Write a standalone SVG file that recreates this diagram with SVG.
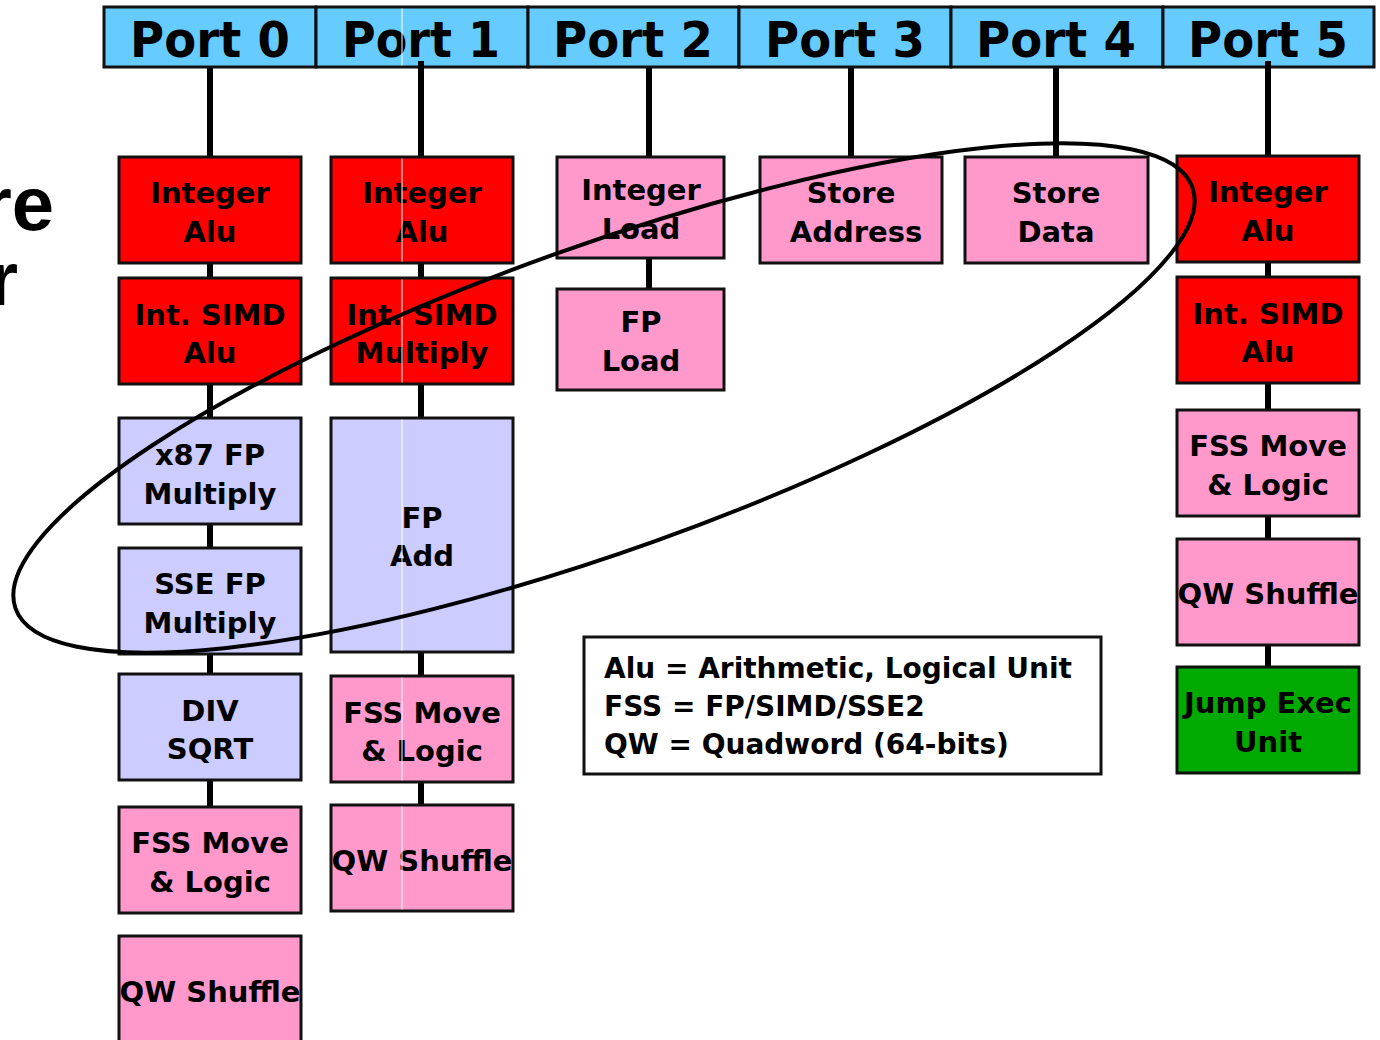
<svg xmlns="http://www.w3.org/2000/svg" width="1380" height="1040" viewBox="0 0 1380 1040">
<style>
.port{fill:#66CCFF;stroke:#111;stroke-width:3}
.pt{font-family:"DejaVu Sans",sans-serif;font-weight:bold;font-size:49px;fill:#000;text-anchor:middle}
.box{stroke:#111;stroke-width:3}
.red{fill:#FF0000}
.pink{fill:#FF99CC}
.lav{fill:#CCCCFF}
.grn{fill:#00AA00}
.lb{font-family:"DejaVu Sans",sans-serif;font-weight:bold;font-size:29px;fill:#000;text-anchor:middle}
.lg{font-family:"DejaVu Sans",sans-serif;font-weight:bold;font-size:28px;fill:#000}
.conn{stroke:#000;stroke-width:6;fill:none}
.title{font-family:"Liberation Sans",Arial,sans-serif;font-weight:bold;font-size:76px;fill:#000;text-anchor:end}
</style>
<rect width="1380" height="1040" fill="#fff"/>
<text class="title" x="54" y="230">re</text>
<text class="title" x="18" y="305">r</text>
<g id="connectors">
<line class="conn" x1="210" y1="66" x2="210" y2="807"/>
<line class="conn" x1="421" y1="66" x2="421" y2="805"/>
<line class="conn" x1="649" y1="66" x2="649" y2="289"/>
<line class="conn" x1="851" y1="66" x2="851" y2="157"/>
<line class="conn" x1="1056" y1="66" x2="1056" y2="157"/>
<line class="conn" x1="1268" y1="66" x2="1268" y2="667"/>
</g>
<g id="ports">
<rect class="port" x="104" y="7" width="212" height="60"/>
<rect class="port" x="316" y="7" width="212" height="60"/>
<rect class="port" x="528" y="7" width="211" height="60"/>
<rect class="port" x="739" y="7" width="212" height="60"/>
<rect class="port" x="951" y="7" width="212" height="60"/>
<rect class="port" x="1163" y="7" width="211" height="60"/>
</g>
<g id="port-labels">
<text class="pt" x="210" y="57" textLength="160" lengthAdjust="spacingAndGlyphs">Port 0</text>
<text class="pt" x="421" y="57" textLength="158" lengthAdjust="spacingAndGlyphs">Port 1</text>
<text class="pt" x="633" y="57" textLength="160" lengthAdjust="spacingAndGlyphs">Port 2</text>
<text class="pt" x="845" y="57" textLength="160" lengthAdjust="spacingAndGlyphs">Port 3</text>
<text class="pt" x="1056" y="57" textLength="160" lengthAdjust="spacingAndGlyphs">Port 4</text>
<text class="pt" x="1268" y="57" textLength="160" lengthAdjust="spacingAndGlyphs">Port 5</text>
</g>
<g id="port-stubs">
<line class="conn" x1="421" y1="61" x2="421" y2="68"/>
<line class="conn" x1="1268" y1="61" x2="1268" y2="68"/>
</g>
<g id="p0-int-alu"><rect class="box red" x="119" y="157" width="182" height="106"/><text class="lb" x="210" y="203">Integer</text><text class="lb" x="210" y="242">Alu</text></g>
<g id="p0-simd-alu"><rect class="box red" x="119" y="278" width="182" height="106"/><text class="lb" x="210" y="325">Int. SIMD</text><text class="lb" x="210" y="363">Alu</text></g>
<g id="p0-x87"><rect class="box lav" x="119" y="418" width="182" height="106"/><text class="lb" x="210" y="465">x87 FP</text><text class="lb" x="210" y="504">Multiply</text></g>
<g id="p0-sse"><rect class="box lav" x="119" y="548" width="182" height="106"/><text class="lb" x="210" y="594">SSE FP</text><text class="lb" x="210" y="633">Multiply</text></g>
<g id="p0-div"><rect class="box lav" x="119" y="674" width="182" height="106"/><text class="lb" x="210" y="721">DIV</text><text class="lb" x="210" y="759">SQRT</text></g>
<g id="p0-fss"><rect class="box pink" x="119" y="807" width="182" height="106"/><text class="lb" x="210" y="853">FSS Move</text><text class="lb" x="210" y="892">&amp; Logic</text></g>
<g id="p0-qw"><rect class="box pink" x="119" y="936" width="182" height="106"/><text class="lb" x="210" y="1002">QW Shuffle</text></g>
<g id="p1-int-alu"><rect class="box red" x="331" y="157" width="182" height="106"/><text class="lb" x="422" y="203">Integer</text><text class="lb" x="422" y="242">Alu</text></g>
<g id="p1-simd-mul"><rect class="box red" x="331" y="278" width="182" height="106"/><text class="lb" x="422" y="325">Int. SIMD</text><text class="lb" x="422" y="363">Multiply</text></g>
<g id="p1-fpadd"><rect class="box lav" x="331" y="418" width="182" height="234"/><text class="lb" x="422" y="528">FP</text><text class="lb" x="422" y="566">Add</text></g>
<g id="p1-fss"><rect class="box pink" x="331" y="676" width="182" height="106"/><text class="lb" x="422" y="723">FSS Move</text><text class="lb" x="422" y="761">&amp; Logic</text></g>
<g id="p1-qw"><rect class="box pink" x="331" y="805" width="182" height="106"/><text class="lb" x="422" y="871">QW Shuffle</text></g>
<line x1="402" y1="8.5" x2="402" y2="65.5" stroke="#fff" stroke-width="1"/>
<line x1="402" y1="158.5" x2="402" y2="261.5" stroke="#fff" stroke-width="1"/>
<line x1="402" y1="279.5" x2="402" y2="382.5" stroke="#fff" stroke-width="1"/>
<line x1="402" y1="419.5" x2="402" y2="650.5" stroke="#fff" stroke-width="1"/>
<line x1="402" y1="677.5" x2="402" y2="780.5" stroke="#fff" stroke-width="1"/>
<line x1="402" y1="806.5" x2="402" y2="909.5" stroke="#fff" stroke-width="1"/>
<g id="p2-int-load"><rect class="box pink" x="557" y="157" width="167" height="101"/><text class="lb" x="641" y="200">Integer</text><text class="lb" x="641" y="239">Load</text></g>
<g id="p2-fp-load"><rect class="box pink" x="557" y="289" width="167" height="101"/><text class="lb" x="641" y="332">FP</text><text class="lb" x="641" y="371">Load</text></g>
<g id="p3-store-addr"><rect class="box pink" x="760" y="157" width="182" height="106"/><text class="lb" x="851" y="203">Store</text><text class="lb" x="856" y="242">Address</text></g>
<g id="p4-store-data"><rect class="box pink" x="965" y="157" width="183" height="106"/><text class="lb" x="1056" y="203">Store</text><text class="lb" x="1056" y="242">Data</text></g>
<g id="p5-int-alu"><rect class="box red" x="1177" y="156" width="182" height="106"/><text class="lb" x="1268" y="202">Integer</text><text class="lb" x="1268" y="241">Alu</text></g>
<g id="p5-simd-alu"><rect class="box red" x="1177" y="277" width="182" height="106"/><text class="lb" x="1268" y="324">Int. SIMD</text><text class="lb" x="1268" y="362">Alu</text></g>
<g id="p5-fss"><rect class="box pink" x="1177" y="410" width="182" height="106"/><text class="lb" x="1268" y="456">FSS Move</text><text class="lb" x="1268" y="495">&amp; Logic</text></g>
<g id="p5-qw"><rect class="box pink" x="1177" y="539" width="182" height="106"/><text class="lb" x="1268" y="604">QW Shuffle</text></g>
<g id="p5-jump"><rect class="box grn" x="1177" y="667" width="182" height="106"/><text class="lb" x="1268" y="713">Jump Exec</text><text class="lb" x="1268" y="752">Unit</text></g>
<g id="legend">
<rect x="584" y="637" width="517" height="137" fill="#fff" stroke="#111" stroke-width="3"/>
<text class="lg" x="604" y="678">Alu = Arithmetic, Logical Unit</text>
<text class="lg" x="604" y="716">FSS = FP/SIMD/SSE2</text>
<text class="lg" x="604" y="754">QW = Quadword (64-bits)</text>
</g>
<g id="highlight">
<ellipse cx="604" cy="398" rx="625" ry="152" transform="rotate(-19.7 604 398)" fill="none" stroke="#000" stroke-width="4"/>
</g>
</svg>
